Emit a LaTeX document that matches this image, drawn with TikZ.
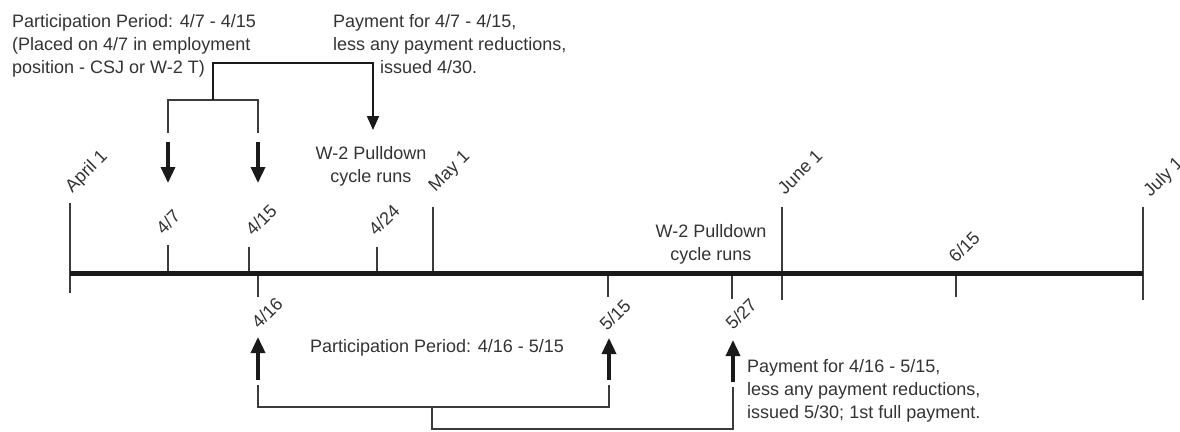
\documentclass[tikz,border=0pt]{standalone}
\usepackage{fontspec}
\setmainfont{Liberation Sans}
\usetikzlibrary{arrows.meta}
\definecolor{ink}{HTML}{1A1A1A}
\definecolor{txt}{HTML}{333333}
\begin{document}
\begin{tikzpicture}[x=1pt,y=-1pt,
  every node/.style={font=\fontsize{18}{23}\selectfont, text=txt, inner sep=0pt},
  axisline/.style={line width=5pt, draw=ink},
  tickline/.style={line width=1.8pt, draw=ink!85},
  connline/.style={line width=1.8pt, draw=ink!85},
  bigarrow/.style={line width=3.5pt, draw=ink, -{Triangle[width=14pt,length=16pt]}},
  smallarrow/.style={line width=1.8pt, draw=ink, -{Triangle[width=12pt,length=14pt]}},
  datelbl/.style={rotate=45, anchor=center}]
\useasboundingbox (0,0) rectangle (1180,431);

% tick end points
\coordinate (tA1) at (70,203);   \coordinate (tA2) at (70,293);
\coordinate (t71) at (168,245);  \coordinate (t72) at (168,273);
\coordinate (t151) at (249,247); \coordinate (t152) at (249,273);
\coordinate (t161) at (258,273); \coordinate (t162) at (258,297);
\coordinate (t241) at (377,247); \coordinate (t242) at (377,273);
\coordinate (tM1) at (433,207);  \coordinate (tM2) at (433,273);
\coordinate (t5151) at (608,273); \coordinate (t5152) at (608,297);
\coordinate (t5271) at (732,273); \coordinate (t5272) at (732,299);
\coordinate (tJ1) at (782,207);  \coordinate (tJ2) at (782,300);
\coordinate (t6151) at (956,273); \coordinate (t6152) at (956,297);
\coordinate (tL1) at (1143,207); \coordinate (tL2) at (1143,300);

\foreach \a/\b in {tA1/tA2,t71/t72,t151/t152,t161/t162,t241/t242,tM1/tM2,t5151/t5152,t5271/t5272,tJ1/tJ2,t6151/t6152,tL1/tL2}
  \draw[tickline] (\a) -- (\b);

\coordinate (axL) at (70,273); \coordinate (axR) at (1143,273);
\draw[axisline] (axL) -- (axR);

% date labels
\node[datelbl] (lA) at (87,172) {April 1};
\node[datelbl] (l47) at (168,222) {4/7};
\node[datelbl] (l415) at (261,220) {4/15};
\node[datelbl] (l424) at (384,220) {4/24};
\node[datelbl] (lM) at (450,172) {May 1};
\node[datelbl] (lJ) at (800,172) {June 1};
\node[datelbl] (l615) at (964,247) {6/15};
\node[datelbl] (lL) at (1164,178) {July 1};
\node[datelbl] (l416) at (267,313) {4/16};
\node[datelbl] (l515) at (615,315) {5/15};
\node[datelbl] (l527) at (741,314) {5/27};

% texts
\node[anchor=north west, align=left] (pp1) at (12,14)
  {Participation Period: 4/7 - 4/15\\(Placed on 4/7 in employment\\position - CSJ or W-2 T)};
\node[anchor=north west, align=left] (pay1) at (333,14)
  {Payment for 4/7 - 4/15,\\less any payment reductions,\\\hspace*{47pt}issued 4/30.};
\node[anchor=north, align=center] (pd1) at (371,146) {W-2 Pulldown\\cycle runs};
\node[anchor=north, align=center] (pd2) at (711,224) {W-2 Pulldown\\cycle runs};
\node[anchor=north west] (pp2) at (310,339) {Participation Period: 4/16 - 5/15};
\node[anchor=north west, align=left] (pay2) at (747,359)
  {Payment for 4/16 - 5/15,\\less any payment reductions,\\issued 5/30; 1st full payment.};

% top brackets
\coordinate (b1) at (213,63);  \coordinate (b2) at (373,63);
\coordinate (b3) at (213,100); \coordinate (b4) at (168,100);
\coordinate (b5) at (258,100); \coordinate (b6) at (168,133);
\coordinate (b7) at (258,133); \coordinate (a430) at (373,130);
\draw[connline] (b6) -- (b4) -- (b5) -- (b7);
\draw[smallarrow] (b3) -- (b1) -- (b2) -- (a430);
\coordinate (u1s) at (168,142); \coordinate (u1e) at (168,183);
\coordinate (u2s) at (258,142); \coordinate (u2e) at (258,183);
\draw[bigarrow] (u1s) -- (u1e);
\draw[bigarrow] (u2s) -- (u2e);

% bottom brackets
\coordinate (d1s) at (258,380); \coordinate (d1e) at (258,337);
\coordinate (d2s) at (609,380); \coordinate (d2e) at (609,338);
\coordinate (d3s) at (733,382); \coordinate (d3e) at (733,340);
\draw[bigarrow] (d1s) -- (d1e);
\draw[bigarrow] (d2s) -- (d2e);
\draw[bigarrow] (d3s) -- (d3e);
\coordinate (c1) at (258,385); \coordinate (c2) at (258,407);
\coordinate (c3) at (609,407); \coordinate (c4) at (609,385);
\coordinate (c5) at (432,407); \coordinate (c6) at (432,429);
\coordinate (c7) at (733,429); \coordinate (c8) at (733,387);
\draw[connline] (c1) -- (c2) -- (c3) -- (c4);
\draw[connline] (c5) -- (c6) -- (c7) -- (c8);
\end{tikzpicture}
\end{document}
